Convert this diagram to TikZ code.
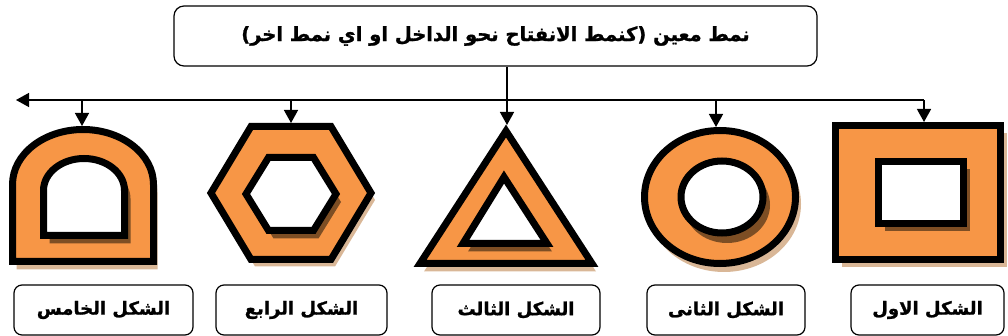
\documentclass[tikz,border=0pt]{standalone}
\usepackage{fontspec}
\usetikzlibrary{arrows.meta}
\newfontfamily\arabicfont[Script=Arabic, BoldFeatures={FakeBold=1.2}]{DejaVu Sans}
\TeXXeTstate=1
\definecolor{ringorange}{RGB}{247,150,70}
\definecolor{darkshade}{RGB}{125,78,36}
\definecolor{lightshade}{RGB}{208,165,125}
\begin{document}
\begin{tikzpicture}[x=1pt,y=-1pt,
    ring/.style={fill=ringorange, draw=black, line width=7pt},
    hole/.style={fill=white, draw=black, line width=7pt},
    outshade/.style={fill=lightshade, opacity=0.8},
    inshade/.style={fill=darkshade},
    titlebox/.style={draw, rounded corners=10pt, line width=1.2pt, minimum width=643pt, minimum height=60pt, font=\arabicfont\bfseries\fontsize{19.5}{24}\selectfont},
    namebox/.style={draw, rounded corners=8pt, line width=1.2pt, minimum height=50pt, font=\arabicfont\bfseries\fontsize{18}{22}\selectfont},
    link/.style={line width=1.4pt},
    tip/.style={link, -{Triangle[length=13pt,width=14pt]}}]
\useasboundingbox (0,0) rectangle (1008,336);

\node[titlebox] (top) at (495.5,36) {\beginR نمط معين (كنمط الانفتاح نحو الداخل او اي نمط اخر)\endR};

% first shape: square
\fill[outshade] (841.5,133.5) rectangle (1006.5,267.5);
\draw[ring] (835.5,125.5) rectangle (1000.5,259.5);
\fill[inshade] (884.5,169.5) rectangle (969.5,231.5);
\draw[hole] (878.5,161.5) rectangle (963.5,223.5);

% second shape: ring
\fill[outshade] (724,204) ellipse [x radius=77, y radius=68];
\draw[ring] (720,197) ellipse [x radius=75.5, y radius=66.5];
\fill[inshade] (727,205) ellipse [x radius=43, y radius=38];
\draw[hole] (722,197) ellipse [x radius=41, y radius=36];

% third shape: triangle
\fill[outshade] (511,139) -- (596,271.5) -- (424,271.5) -- cycle;
\draw[ring] (506,131) -- (592,263.5) -- (420,263.5) -- cycle;
\fill[inshade] (509,185) -- (552,251.5) -- (468,251.5) -- cycle;
\draw[hole] (504,177) -- (547,243.5) -- (463,243.5) -- cycle;

% fourth shape: hexagon
\fill[outshade] (375,200) -- (335,133.5) -- (255,133.5) -- (215,200) -- (255,266.5) -- (335,266.5) -- cycle;
\draw[ring] (371,193) -- (331,126.5) -- (251,126.5) -- (211,193) -- (251,259.5) -- (331,259.5) -- cycle;
\fill[inshade] (341,202) -- (318.5,165.5) -- (273.5,165.5) -- (251,202) -- (273.5,238.5) -- (318.5,238.5) -- cycle;
\draw[hole] (336,194) -- (313.5,157.5) -- (268.5,157.5) -- (246,194) -- (268.5,230.5) -- (313.5,230.5) -- cycle;

% fifth shape: arch
\fill[outshade] (16.5,269.5) -- (16.5,192.5) arc[start angle=180, end angle=360, x radius=70.5, y radius=55] -- (157.5,269.5) -- cycle;
\draw[ring] (12.5,261.5) -- (12.5,184.5) arc[start angle=180, end angle=360, x radius=70.5, y radius=55] -- (153.5,261.5) -- cycle;
\fill[inshade] (49.5,243.5) -- (49.5,198.5) arc[start angle=180, end angle=360, x radius=40.5, y radius=32] -- (130.5,243.5) -- cycle;
\draw[hole] (43.5,235.5) -- (43.5,190.5) arc[start angle=180, end angle=360, x radius=40.5, y radius=32] -- (124.5,235.5) -- cycle;

% connectors
\coordinate (j1) at (924,100);
\coordinate (j2) at (716,100);
\coordinate (j3) at (507,100);
\coordinate (j4) at (291,100);
\coordinate (j5) at (82,100);
\coordinate (lend) at (16,100);
\coordinate (t1) at (924,122);
\coordinate (t2) at (716,127);
\coordinate (t3) at (507,125);
\coordinate (t4) at (291,123);
\coordinate (t5) at (82,126);
\draw[link] (top.south -| j3) -- (j3);
\draw[tip] (j1) -- (lend);
\foreach \i in {1,...,5}
  \draw[tip] (j\i) -- (t\i);

% names
\node[namebox, minimum width=153pt] (n1) at (927.5,310) {\beginR الشكل الاول\endR};
\node[namebox, minimum width=158pt] (n2) at (726,310) {\beginR الشكل الثانى\endR};
\node[namebox, minimum width=168pt] (n3) at (516,310) {\beginR الشكل الثالث\endR};
\node[namebox, minimum width=171pt] (n4) at (301.5,310) {\beginR الشكل الرابع\endR};
\node[namebox, minimum width=179pt] (n5) at (103.5,310) {\beginR الشكل الخامس\endR};
\end{tikzpicture}
\end{document}
